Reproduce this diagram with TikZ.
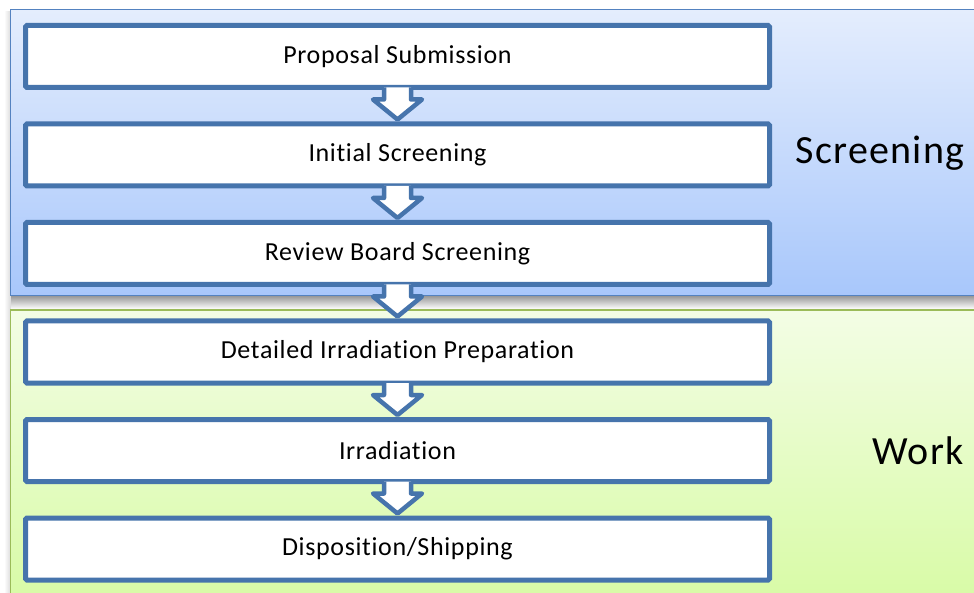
\documentclass[tikz,border=0pt]{standalone}
\usepackage{fontspec}
\setmainfont{Carlito}
\newfontfamily\boxfont{Carlito}[LetterSpace=2.5,Ligatures=NoCommon]
\newfontfamily\phasefont{Carlito}[LetterSpace=3,Ligatures=NoCommon]
\usetikzlibrary{calc}
\definecolor{boxline}{RGB}{70,116,172}
\definecolor{bluetop}{RGB}{228,237,253}
\definecolor{bluebot}{RGB}{168,199,251}
\definecolor{blueedge}{RGB}{84,130,192}
\definecolor{greentop}{RGB}{243,253,229}
\definecolor{greenbot}{RGB}{216,251,166}
\definecolor{greenedge}{RGB}{155,187,89}
\begin{document}
\begin{tikzpicture}[x=1pt,y=-1pt,
  stepbox/.style={draw=boxline, line width=5pt, fill=white, rounded corners=1.5pt,
    minimum width=744pt, minimum height=62pt, inner sep=0pt,
    font=\boxfont\fontsize{26}{30}\selectfont},
  phase/.style={font=\phasefont\fontsize{40}{46}\selectfont, inner sep=0pt},
  flowarrow/.style={draw=boxline, line width=4.5pt, line join=round}]
\useasboundingbox (0,0) rectangle (974,593);
\fill[white] (0,0) rectangle (974,593);
% shadows
\shade[top color=black!40, bottom color=white] (10,296) rectangle (974,309);
\shade[left color=white, right color=black!14] (4,12) rectangle (10.5,593);
% panels
\shade[top color=bluetop, bottom color=bluebot, draw=blueedge, line width=1pt] (10.5,10) rectangle (980,295.5);
\shade[top color=greentop, bottom color=greenbot, draw=greenedge, line width=1.5pt] (10.5,310) rectangle (980,600);
% steps
\node[stepbox] (b1) at (397.5,56.5) {Proposal Submission};
\node[stepbox] (b2) at (397.5,155) {Initial Screening};
\node[stepbox] (b3) at (397.5,253.5) {Review Board Screening};
\node[stepbox] (b4) at (397.5,352) {Detailed Irradiation Preparation};
\node[stepbox] (b5) at (397.5,450.5) {Irradiation};
\node[stepbox] (b6) at (397.5,549) {Disposition/Shipping};
% arrows
\foreach \a/\b in {b1/b2,b2/b3,b3/b4,b4/b5,b5/b6}{
  \coordinate (t) at (\a.south);
  \coordinate (p) at ($(\b.north)+(0,-2)$);
  \fill[white] ($(t)+(-13.5,-2.5)$) -- ($(t)+(-13.5,9.5)$) -- ($(t)+(-24.5,9.5)$) -- (p)
    -- ($(t)+(24.5,9.5)$) -- ($(t)+(13.5,9.5)$) -- ($(t)+(13.5,-2.5)$) -- cycle;
  \draw[flowarrow] ($(t)+(-13.5,-2.5)$) -- ($(t)+(-13.5,9.5)$) -- ($(t)+(-24.5,9.5)$) -- (p)
    -- ($(t)+(24.5,9.5)$) -- ($(t)+(13.5,9.5)$) -- ($(t)+(13.5,-2.5)$);
}
% phase labels
\node[phase, anchor=base] (scr) at (880,164) {Screening};
\node[phase, anchor=base] (wrk) at (918,464) {Work};
\end{tikzpicture}
\end{document}
